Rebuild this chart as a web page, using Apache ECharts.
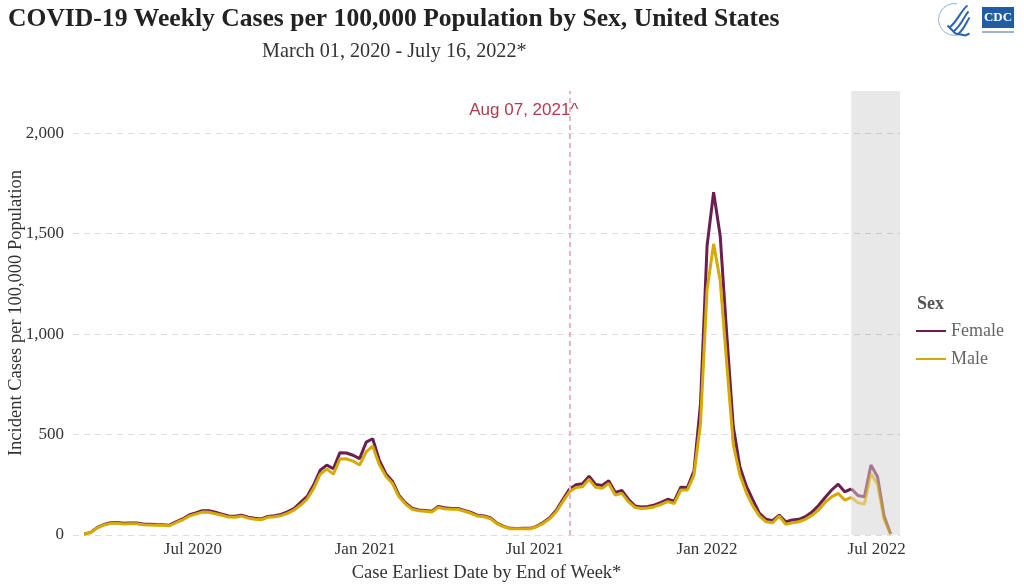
<!DOCTYPE html>
<html>
<head>
<meta charset="utf-8">
<script src="https://cdn.jsdelivr.net/npm/echarts@6/dist/echarts.min.js"></script>
<style>
html,body{margin:0;padding:0;background:#fff;}
#chart{width:1024px;height:587px;}
</style>
</head>
<body>
<div id="chart"></div>
<script>
// ---------- DATA ----------
const firstWeekEnding = [2020, 2, 7];   // Sat, Mar 07 2020 (year, monthIndex, day)
const femaleValues = [
  5, 13, 38, 52, 61, 62, 59, 60, 60, 55, 54, 52, 51, 49, 65, 80, 100, 110, 121, 121,
  113, 104, 95, 93, 99, 89, 83, 80, 92, 96, 102, 115, 132, 162, 192, 250, 323, 348, 330, 410,
  408, 397, 380, 462, 479, 373, 305, 268, 198, 160, 133, 125, 122, 118, 142, 136, 132, 132, 122, 112,
  98, 95, 85, 58, 43, 33, 32, 33, 33, 43, 62, 86, 123, 176, 227, 250, 255, 293, 252, 246,
  270, 212, 222, 178, 145, 140, 142, 150, 162, 178, 168, 238, 236, 318, 654, 1440, 1706, 1490, 1000, 540,
  340, 243, 174, 108, 78, 71, 99, 66, 75, 78, 91, 114, 147, 187, 224, 253, 215, 230, 197, 190,
  348, 290, 94, 5
];
const maleValues = [
  5, 12, 36, 50, 58, 58, 55, 56, 56, 51, 50, 48, 48, 46, 61, 75, 94, 104, 114, 113,
  106, 98, 89, 88, 94, 84, 78, 76, 88, 91, 96, 108, 124, 149, 179, 232, 303, 328, 303, 378,
  379, 368, 348, 414, 442, 351, 293, 257, 190, 154, 128, 121, 118, 114, 137, 131, 128, 128, 118, 108,
  94, 91, 81, 55, 41, 31, 31, 31, 31, 41, 58, 81, 116, 166, 215, 237, 240, 277, 237, 232,
  257, 199, 207, 166, 137, 132, 134, 141, 152, 166, 157, 224, 224, 298, 555, 1220, 1449, 1267, 853, 450,
  300, 210, 144, 94, 66, 61, 94, 53, 61, 66, 78, 98, 124, 162, 190, 207, 174, 187, 161, 154,
  306, 253, 78, 5
];
const seriesNames = ['Female', 'Male'];
const seriesColors = ['#6b1e50', '#d6aa00'];
const xTickLabels = ['Jul 2020', 'Jan 2021', 'Jul 2021', 'Jan 2022', 'Jul 2022'];
const yTickValues = [0, 500, 1000, 1500, 2000];
const xAxisRange = [[2020, 1, 24], [2022, 6, 26]];
const yAxisRange = [0, 2210];
const annotationDate = [2021, 7, 7];      // Aug 07, 2021
const annotationText = 'Aug 07, 2021^';
const incompleteStart = [2022, 5, 4];     // shaded region start (Jun 04, 2022)
const monthNames = ['Jan','Feb','Mar','Apr','May','Jun','Jul','Aug','Sep','Oct','Nov','Dec'];

// ---------- BUILD ----------
const ts = a => new Date(a[0], a[1], a[2]).getTime();
const weekDates = femaleValues.map((_, i) => new Date(firstWeekEnding[0], firstWeekEnding[1], firstWeekEnding[2] + 7 * i).getTime());
const incompleteTs = ts(incompleteStart);
const splitIdx = weekDates.findIndex(t => t >= incompleteTs);

function pairs(vals, from, to) {
  const out = [];
  for (let i = from; i < to; i++) out.push([weekDates[i], vals[i]]);
  return out;
}
const allVals = [femaleValues, maleValues];
const serif = 'Liberation Serif';

const series = [];
allVals.forEach((vals, k) => {
  series.push({
    name: seriesNames[k], type: 'line', showSymbol: false, symbol: 'none',
    color: seriesColors[k], z: 3 + k,
    lineStyle: { width: 3, color: seriesColors[k] },
    data: pairs(vals, 0, splitIdx + 1),
    animation: false
  });
});
allVals.forEach((vals, k) => {
  series.push({
    name: seriesNames[k] + ' (incomplete)', type: 'line', showSymbol: false, symbol: 'none',
    color: seriesColors[k], z: 3 + k,
    lineStyle: { width: 3, color: seriesColors[k], opacity: 0.55 },
    data: pairs(vals, splitIdx, vals.length),
    animation: false
  });
});
// annotations
series[0].markArea = {
  silent: true,
  itemStyle: { color: 'rgba(0,0,0,0.09)' },
  data: [[{ xAxis: incompleteTs }, { xAxis: ts(xAxisRange[1]) }]]
};
series[1].markLine = {
  silent: true, symbol: 'none', animation: false,
  label: { show: false },
  lineStyle: { color: '#e6b5c2', type: [5, 4], width: 2 },
  data: [{ xAxis: ts(annotationDate) }]
};
series[1].markPoint = {
  silent: true, animation: false,
  symbol: 'circle', symbolSize: 0,
  data: [{ coord: [ts(annotationDate), 2115] }],
  label: {
    show: true, formatter: annotationText, position: 'inside', align: 'right', offset: [9, 0],
    color: '#ad3c4e', fontSize: 17, fontFamily: 'Liberation Sans'
  }
};

const option = {
  backgroundColor: '#fff',
  animation: false,
  title: [
    { text: 'COVID-19 Weekly Cases per 100,000 Population by Sex, United States', left: 3, top: 1,
      textStyle: { fontFamily: serif, fontWeight: 'bold', fontSize: 25.6, color: '#222' } },
    { text: 'March 01, 2020 - July 16, 2022*', left: 257, top: 37,
      textStyle: { fontFamily: serif, fontWeight: 'normal', fontSize: 20.2, color: '#333' } },
    { text: 'Sex', left: 912, top: 290,
      textStyle: { fontFamily: serif, fontWeight: 'bold', fontSize: 18, color: '#555' } }
  ],
  legend: {
    orient: 'vertical', left: 911, top: 317, itemWidth: 30, itemHeight: 2, itemGap: 10,
    icon: 'rect',
    data: seriesNames,
    textStyle: { fontFamily: serif, fontSize: 18, color: '#666' },
    selectedMode: false
  },
  grid: { left: 73, right: 124, top: 91, bottom: 52, containLabel: false, outerBoundsMode: 'none' },
  xAxis: {
    type: 'time',
    min: ts(xAxisRange[0]), max: ts(xAxisRange[1]),
    splitNumber: 5,
    axisLine: { show: false }, axisTick: { show: false }, splitLine: { show: false },
    axisLabel: {
      margin: 6, fontFamily: serif, fontSize: 17, color: '#333',
      showMinLabel: false, showMaxLabel: false,
      formatter: function (v) {
        const d = new Date(v);
        const s = monthNames[d.getMonth()] + ' ' + d.getFullYear();
        return (d.getDate() === 1 && xTickLabels.indexOf(s) >= 0) ? s : '';
      }
    },
    name: 'Case Earliest Date by End of Week*', nameLocation: 'middle', nameGap: 29, nameMoveOverlap: false,
    nameTextStyle: { fontFamily: serif, fontSize: 18.5, color: '#333' }
  },
  yAxis: {
    type: 'value', min: yAxisRange[0], max: yAxisRange[1], interval: 500,
    axisLine: { show: false }, axisTick: { show: false },
    splitLine: { show: true, showMaxLine: false, lineStyle: { color: '#dcdcdc', type: [6, 5], width: 1 } },
    axisLabel: {
      margin: 9, fontFamily: serif, fontSize: 17, color: '#333',
      formatter: function (v) { return yTickValues.indexOf(v) >= 0 ? v.toLocaleString('en-US') : ''; }
    },
    name: 'Incident Cases per 100,000 Population', nameLocation: 'middle', nameGap: 47, nameRotate: 90,
    nameMoveOverlap: false,
    nameTextStyle: { fontFamily: serif, fontSize: 18.5, color: '#333' }
  },
  graphic: [
    { type: 'group', left: 936, top: 1, children: [
      { type: 'arc', shape: { cx: 17, cy: 18, r: 16, startAngle: Math.PI * 0.35, endAngle: Math.PI * 1.55 },
        style: { stroke: '#8fb4dc', lineWidth: 1, fill: null } },
      { type: 'bezierCurve', shape: { x1: 12, y1: 26, x2: 30, y2: 4, cpx1: 20, cpy1: 20, cpx2: 24, cpy2: 8 },
        style: { stroke: '#2a64ad', lineWidth: 2 } },
      { type: 'bezierCurve', shape: { x1: 16, y1: 30, x2: 31, y2: 10, cpx1: 24, cpy1: 24, cpx2: 27, cpy2: 14 },
        style: { stroke: '#2a64ad', lineWidth: 2 } },
      { type: 'bezierCurve', shape: { x1: 20, y1: 33, x2: 32, y2: 16, cpx1: 27, cpy1: 28, cpx2: 29, cpy2: 20 },
        style: { stroke: '#2a64ad', lineWidth: 2 } },
      { type: 'polyline', shape: { points: [[10, 24], [18, 32], [28, 34], [32, 32]] },
        style: { stroke: '#2a64ad', lineWidth: 2, fill: null } }
    ] },
    { type: 'group', left: 982, top: 7, children: [
      { type: 'rect', shape: { x: 0, y: 0, width: 32, height: 21 }, style: { fill: '#1f5ca8' } },
      { type: 'text', style: { x: 16, y: 11, text: 'CDC', fill: '#fff', font: 'bold 13px "Liberation Serif"',
        textAlign: 'center', textVerticalAlign: 'middle' } },
      { type: 'rect', shape: { x: 0, y: 24, width: 32, height: 2 }, style: { fill: '#9ab3d3' } }
    ] }
  ],
  series: series
};

const chart = echarts.init(document.getElementById('chart'), null, { renderer: 'canvas' });
chart.setOption(option);
</script>
</body>
</html>
